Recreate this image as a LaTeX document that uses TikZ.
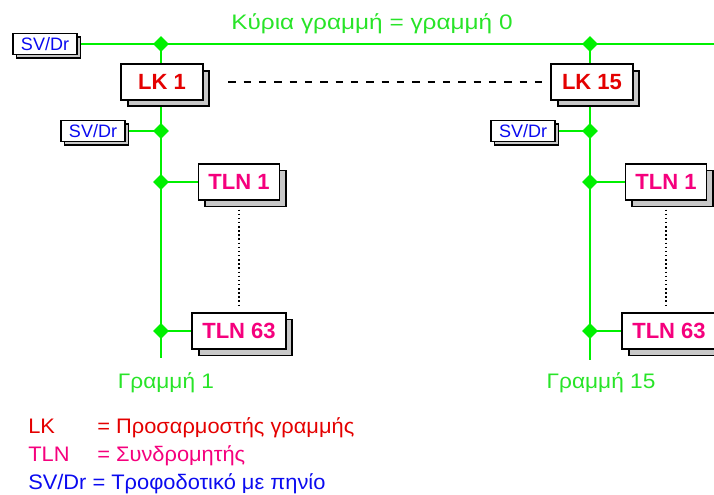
\documentclass[tikz,border=0pt]{standalone}
\usepackage{fontspec}
\setmainfont{Liberation Sans}
\newfontfamily\labelfont[FakeStretch=1.08]{Liberation Sans}
\newfontfamily\titlefont[FakeStretch=1.16]{Liberation Sans}
\newfontfamily\keyfont[FakeStretch=1.04]{Liberation Sans}
\usetikzlibrary{shapes.geometric,shadows,backgrounds}

\definecolor{busgreen}{RGB}{0,240,0}
\definecolor{labelgreen}{RGB}{40,228,40}
\definecolor{lkred}{RGB}{228,0,0}
\definecolor{tlnpink}{RGB}{245,0,125}
\definecolor{svblue}{RGB}{10,10,240}
\definecolor{shadowgray}{RGB}{200,200,200}

\begin{document}
\begin{tikzpicture}[x=0.75pt, y=-0.75pt, line join=miter]

% --- Global TikZ Styles ---
\tikzset{
    busline/.style={
        draw=busgreen,
        line width=1.5pt
    },
    busjunction/.style={
        diamond,
        fill=busgreen,
        inner sep=0pt,
        minimum size=12pt
    },
    boxbase/.style={
        rectangle,
        draw=black,
        fill=white,
        line width=1.3pt,
        inner sep=0pt
    },
    couplerbox/.style={
        boxbase,
        copy shadow={shadow xshift=4.8pt, shadow yshift=-4.8pt,
            fill=shadowgray, draw=black},
        minimum width=61pt,
        minimum height=26.5pt,
        text=lkred,
        font=\fontsize{16.5}{18}\selectfont\bfseries
    },
    subscriberbox/.style={
        boxbase,
        copy shadow={shadow xshift=4.8pt, shadow yshift=-4.8pt,
            fill=shadowgray, draw=black},
        inner xsep=7.5pt,
        minimum height=27pt,
        text=tlnpink,
        font=\fontsize{16.5}{18}\selectfont\bfseries
    },
    supplybox/.style={
        boxbase,
        copy shadow={shadow xshift=2.7pt, shadow yshift=-2.7pt,
            fill=shadowgray, draw=black},
        minimum width=48pt,
        minimum height=15.75pt,
        text=svblue,
        font=\fontsize{13.5}{15}\selectfont
    },
    couplerlink/.style={
        draw=black,
        line width=1.1pt,
        dash pattern=on 5.5pt off 6pt
    },
    subscriberlink/.style={
        draw=black,
        line width=1.1pt,
        dotted
    },
    linelabel/.style={
        text=labelgreen,
        font=\labelfont\fontsize{15.75}{18}\selectfont
    },
    legendtext/.style={
        anchor=base west,
        inner sep=0pt,
        font=\keyfont\fontsize{15.75}{18}\selectfont
    }
}

% --- Fixed picture area ---
\useasboundingbox (0,0) rectangle (714,495);

% =========================================================================
% --- Main line (line 0) ---
% =========================================================================
\node[linelabel, font=\titlefont\fontsize{15.75}{18}\selectfont]
    (mainlabel) at (372,23.5) {Κύρια γραμμή = γραμμή 0};

\node[supplybox] (sv0) at (45,44) {SV/Dr};
\coordinate (busend) at (714,44);

\node[busjunction] (j1top) at (161,44) {};
\node[busjunction] (j15top) at (590,44) {};

% --- Line couplers ---
\node[couplerbox] (lk1) at (162,82) {LK 1};
\node[couplerbox] (lk15) at (592,82) {LK 15};

\draw[couplerlink, shorten <=18.5pt, shorten >=4.5pt] (lk1) -- (lk15);

% =========================================================================
% --- Line 1 ---
% =========================================================================
\node[supplybox] (sv1) at (93,131) {SV/Dr};
\node[busjunction] (j1sv) at (161,131) {};

\node[subscriberbox] (tln1a) at (239,182) {TLN 1};
\node[busjunction] (j1a) at (161,182) {};

\node[subscriberbox] (tln63a) at (239,331) {TLN 63};
\node[busjunction] (j1b) at (161,331) {};

\coordinate (end1) at (161,358);
\node[linelabel] (label1) at (166,383) {Γραμμή 1};

\draw[subscriberlink, shorten <=6.5pt, shorten >=3.5pt] (tln1a) -- (tln63a);

% =========================================================================
% --- Line 15 ---
% =========================================================================
\node[supplybox] (sv15) at (523,131) {SV/Dr};
\node[busjunction] (j15sv) at (590,131) {};

\node[subscriberbox] (tln1b) at (666,182) {TLN 1};
\node[busjunction] (j15a) at (590,182) {};

\node[subscriberbox] (tln63b) at (669,331) {TLN 63};
\node[busjunction] (j15b) at (590,331) {};

\coordinate (end15) at (590,360);
\node[linelabel] (label15) at (601,383) {Γραμμή 15};

\draw[subscriberlink, shorten <=6.5pt, shorten >=3.5pt]
    (tln1b.south) -- (tln1b.south |- tln63b.north);

% --- Green bus lines, behind boxes and shadows ---
\begin{pgfonlayer}{background}
    \draw[busline] (sv0) -- (busend);

    \draw[busline] (j1top.center) -- (end1);
    \draw[busline] (j1sv.center) -- (sv1);
    \draw[busline] (j1a.center) -- (tln1a);
    \draw[busline] (j1b.center) -- (tln63a);

    \draw[busline] (j15top.center) -- (end15);
    \draw[busline] (j15sv.center) -- (sv15);
    \draw[busline] (j15a.center) -- (tln1b);
    \draw[busline] (j15b.center) -- (tln63b);
\end{pgfonlayer}

% =========================================================================
% --- Legend ---
% =========================================================================
\node[legendtext, text=lkred] (keylk) at (28,433) {LK};
\node[legendtext, text=lkred] (desclk) at (97,433) {= Προσαρμοστής γραμμής};

\node[legendtext, text=tlnpink] (keytln) at (28,461) {TLN};
\node[legendtext, text=tlnpink] (desctln) at (97,461) {= Συνδρομητής};

\node[legendtext, text=svblue] (keysv) at (28,489) {SV/Dr = Τροφοδοτικό με πηνίο};

\end{tikzpicture}
\end{document}
